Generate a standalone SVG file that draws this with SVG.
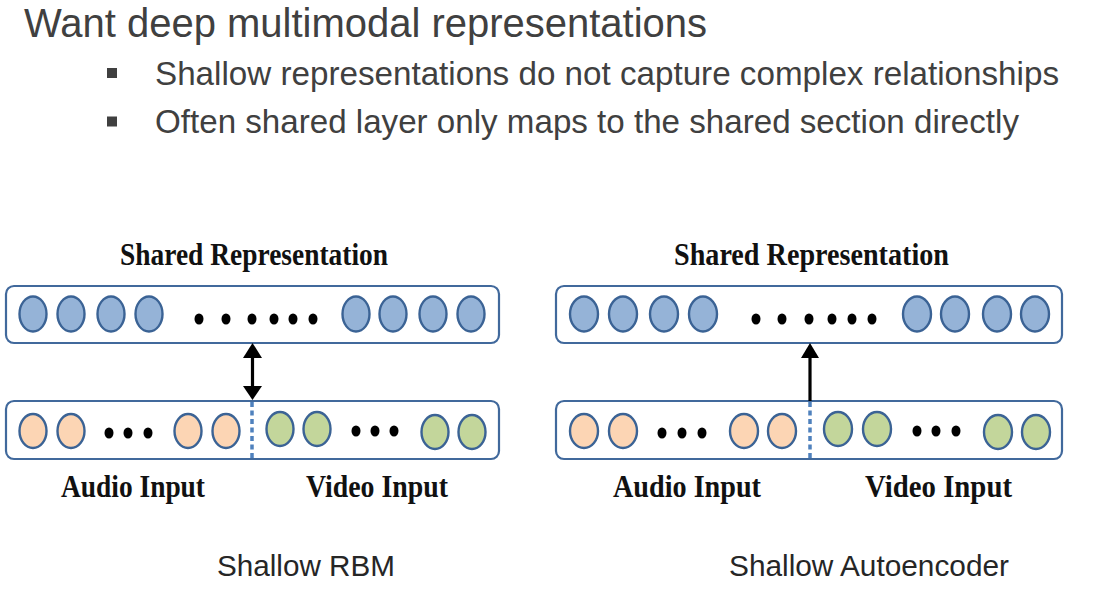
<svg xmlns="http://www.w3.org/2000/svg" width="1102" height="590" viewBox="0 0 1102 590">
<defs>
<style>
.hdr{font-family:"Liberation Sans",Arial,sans-serif;fill:#404040}
.cap{font-family:"Liberation Sans",Arial,sans-serif;fill:#262626;font-size:30px}
.lbl{font-family:"Liberation Serif","Times New Roman",serif;font-weight:bold;fill:#111;font-size:31px}
.box{fill:#fff;stroke:#41699c;stroke-width:2.2}
.b{fill:#95b3d7;stroke:#3b6395;stroke-width:2.4}
.o{fill:#fcd5b4;stroke:#3b6395;stroke-width:2.4}
.g{fill:#c3d69b;stroke:#3b6395;stroke-width:2.4}
.d{fill:#000}
.dash{stroke:#4f81bd;stroke-width:3.5;stroke-dasharray:5 3.5}
.shaft{stroke:#000;stroke-width:3.2}
</style>
</defs>
<rect width="1102" height="590" fill="#fff"/>
<text class="hdr" x="24" y="37" font-size="40" textLength="683" lengthAdjust="spacingAndGlyphs">Want deep multimodal representations</text>
<rect x="107" y="68" width="10" height="10" fill="#404040"/>
<text class="hdr" x="155" y="85" font-size="33" textLength="904" lengthAdjust="spacingAndGlyphs">Shallow representations do not capture complex relationships</text>
<rect x="107" y="116.5" width="10" height="10" fill="#404040"/>
<text class="hdr" x="155" y="133" font-size="33" textLength="864" lengthAdjust="spacingAndGlyphs">Often shared layer only maps to the shared section directly</text>

<g id="rbm-shared">
<text class="lbl" x="120" y="265" textLength="268" lengthAdjust="spacingAndGlyphs">Shared Representation</text>
<rect class="box" x="6" y="286" width="493" height="57" rx="8"/>
<ellipse class="b" cx="33" cy="314" rx="13.5" ry="17.5"/>
<ellipse class="b" cx="71" cy="314" rx="13.5" ry="17.5"/>
<ellipse class="b" cx="111" cy="314" rx="13.5" ry="17.5"/>
<ellipse class="b" cx="149" cy="314" rx="13.5" ry="17.5"/>
<ellipse class="d" cx="199" cy="319" rx="4.5" ry="5.5"/>
<ellipse class="d" cx="226" cy="319" rx="4.5" ry="5.5"/>
<ellipse class="d" cx="252" cy="319" rx="4.5" ry="5.5"/>
<ellipse class="d" cx="274" cy="319" rx="4.5" ry="5.5"/>
<ellipse class="d" cx="293" cy="319" rx="4.5" ry="5.5"/>
<ellipse class="d" cx="313" cy="319" rx="4.5" ry="5.5"/>
<ellipse class="b" cx="356" cy="314" rx="13.5" ry="17.5"/>
<ellipse class="b" cx="393" cy="314" rx="13.5" ry="17.5"/>
<ellipse class="b" cx="433" cy="314" rx="13.5" ry="17.5"/>
<ellipse class="b" cx="471" cy="314" rx="13.5" ry="17.5"/>
</g>
<g id="rbm-input">
<rect class="box" x="6" y="401" width="493" height="58" rx="8"/>
<ellipse class="o" cx="33" cy="431" rx="13.5" ry="17"/>
<ellipse class="o" cx="71" cy="431" rx="13.5" ry="17"/>
<ellipse class="d" cx="109" cy="433" rx="4.5" ry="5.5"/>
<ellipse class="d" cx="128" cy="433" rx="4.5" ry="5.5"/>
<ellipse class="d" cx="148" cy="433" rx="4.5" ry="5.5"/>
<ellipse class="o" cx="188" cy="431" rx="13.5" ry="17"/>
<ellipse class="o" cx="226" cy="431" rx="13.5" ry="17"/>
<line class="dash" x1="252" y1="402" x2="252" y2="459"/>
<ellipse class="g" cx="280" cy="429" rx="13.5" ry="17"/>
<ellipse class="g" cx="317" cy="429" rx="13.5" ry="17"/>
<ellipse class="d" cx="356" cy="431" rx="4.5" ry="5.5"/>
<ellipse class="d" cx="375" cy="431" rx="4.5" ry="5.5"/>
<ellipse class="d" cx="394" cy="431" rx="4.5" ry="5.5"/>
<ellipse class="g" cx="435" cy="432" rx="13.5" ry="17"/>
<ellipse class="g" cx="472" cy="432" rx="13.5" ry="17"/>
<text class="lbl" x="61" y="497" textLength="144" lengthAdjust="spacingAndGlyphs">Audio Input</text>
<text class="lbl" x="306" y="497" textLength="142" lengthAdjust="spacingAndGlyphs">Video Input</text>
</g>

<g id="ae-shared">
<text class="lbl" x="674" y="265" textLength="275" lengthAdjust="spacingAndGlyphs">Shared Representation</text>
<rect class="box" x="556" y="286" width="506" height="57" rx="8"/>
<ellipse class="b" cx="584" cy="314" rx="14" ry="17.5"/>
<ellipse class="b" cx="623" cy="314" rx="14" ry="17.5"/>
<ellipse class="b" cx="664" cy="314" rx="14" ry="17.5"/>
<ellipse class="b" cx="703" cy="314" rx="14" ry="17.5"/>
<ellipse class="d" cx="756" cy="319" rx="4.5" ry="5.5"/>
<ellipse class="d" cx="782" cy="319" rx="4.5" ry="5.5"/>
<ellipse class="d" cx="809" cy="319" rx="4.5" ry="5.5"/>
<ellipse class="d" cx="832" cy="319" rx="4.5" ry="5.5"/>
<ellipse class="d" cx="852" cy="319" rx="4.5" ry="5.5"/>
<ellipse class="d" cx="872" cy="319" rx="4.5" ry="5.5"/>
<ellipse class="b" cx="917" cy="314" rx="14" ry="17.5"/>
<ellipse class="b" cx="955" cy="314" rx="14" ry="17.5"/>
<ellipse class="b" cx="997" cy="314" rx="14" ry="17.5"/>
<ellipse class="b" cx="1035" cy="314" rx="14" ry="17.5"/>
</g>
<g id="ae-input">
<rect class="box" x="556" y="401" width="506" height="58" rx="8"/>
<ellipse class="o" cx="584" cy="431" rx="14" ry="17"/>
<ellipse class="o" cx="623" cy="431" rx="14" ry="17"/>
<ellipse class="d" cx="662" cy="433" rx="4.5" ry="5.5"/>
<ellipse class="d" cx="682" cy="433" rx="4.5" ry="5.5"/>
<ellipse class="d" cx="702" cy="433" rx="4.5" ry="5.5"/>
<ellipse class="o" cx="744" cy="431" rx="14" ry="17"/>
<ellipse class="o" cx="782" cy="431" rx="14" ry="17"/>
<line class="dash" x1="810" y1="402" x2="810" y2="459"/>
<ellipse class="g" cx="838" cy="429" rx="14" ry="17"/>
<ellipse class="g" cx="877" cy="429" rx="14" ry="17"/>
<ellipse class="d" cx="917" cy="431" rx="4.5" ry="5.5"/>
<ellipse class="d" cx="936" cy="431" rx="4.5" ry="5.5"/>
<ellipse class="d" cx="956" cy="431" rx="4.5" ry="5.5"/>
<ellipse class="g" cx="998" cy="432" rx="14" ry="17"/>
<ellipse class="g" cx="1036" cy="432" rx="14" ry="17"/>
<text class="lbl" x="613" y="497" textLength="148" lengthAdjust="spacingAndGlyphs">Audio Input</text>
<text class="lbl" x="865" y="497" textLength="147" lengthAdjust="spacingAndGlyphs">Video Input</text>
</g>

<g id="connectors">
<line class="shaft" x1="252.5" y1="356" x2="252.5" y2="388"/>
<polygon points="252.5,343 243,358 262,358" fill="#000"/>
<polygon points="252.5,400 243,386 262,386" fill="#000"/>
<line class="shaft" x1="810" y1="356" x2="810" y2="401"/>
<polygon points="810,343 801,358 819,358" fill="#000"/>
</g>

<text class="cap" x="217" y="576" textLength="178" lengthAdjust="spacingAndGlyphs">Shallow RBM</text>
<text class="cap" x="729" y="576" textLength="280" lengthAdjust="spacingAndGlyphs">Shallow Autoencoder</text>
</svg>
